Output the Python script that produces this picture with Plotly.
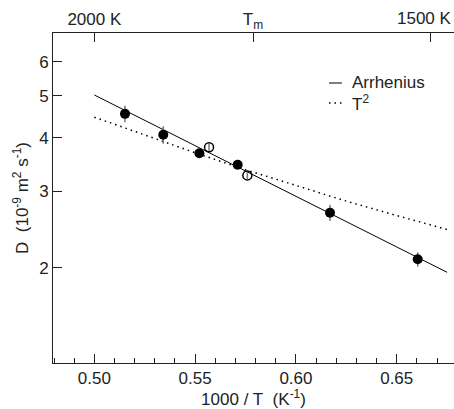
import plotly.graph_objects as go

# Filled (closed) data points
x_filled = [0.5152, 0.5342, 0.5521, 0.5711, 0.6169, 0.6604]
d_filled = [4.54, 4.06, 3.68, 3.46, 2.68, 2.09]
err_filled = [0.20, 0.19, 0.06, 0.06, 0.115, 0.08]

# Open data points
x_open = [0.5569, 0.5759]
d_open = [3.80, 3.27]
err_open = [0.07, 0.06]

# Arrhenius fit line (read at its ends)
x_arr = [0.500, 0.675]
d_arr = [5.02, 1.95]

# T^2 curve
x_t2 = [0.500, 0.525, 0.550, 0.575, 0.600, 0.625, 0.650, 0.675]
d_t2 = [4.46, 4.05, 3.69, 3.37, 3.10, 2.85, 2.64, 2.45]

# Axis ticks
y_ticks = [2, 3, 4, 5, 6]
top_tickvals = [1000 / 2000, 1000 / 1728, 1000 / 1500]
top_ticktext = ["2000 K", "T<sub>m</sub>", ""]
top_right_label = "1500 K"

FONT = "Liberation Sans, Arial, Helvetica, sans-serif"
AX = "#222222"
FS = 17
NB = "\u00a0"

fig = go.Figure()

fig.add_trace(go.Scatter(x=x_t2, y=d_t2, mode="lines",
                         line=dict(color="black", width=1.5, dash="1.5px,4px"),
                         showlegend=False, hoverinfo="skip"))
fig.add_trace(go.Scatter(x=x_arr, y=d_arr, mode="lines",
                         line=dict(color="black", width=1),
                         showlegend=False, hoverinfo="skip"))
fig.add_trace(go.Scatter(x=x_filled, y=d_filled, mode="markers",
                         marker=dict(symbol="circle", size=10, color="black"),
                         error_y=dict(type="data", array=err_filled, color="#777777",
                                      thickness=1.5, width=0),
                         showlegend=False))
fig.add_trace(go.Scatter(x=x_open, y=d_open, mode="markers",
                         marker=dict(symbol="circle-open", size=9, color="black",
                                     line=dict(width=1.5, color="black")),
                         error_y=dict(type="data", array=err_open, color="#777777",
                                      thickness=1.5, width=0),
                         showlegend=False))
# invisible trace on the top axis so it renders
fig.add_trace(go.Scatter(x=[0.5], y=[3], xaxis="x2", mode="markers",
                         marker=dict(opacity=0), showlegend=False, hoverinfo="skip"))

W, H = 454, 409
L, R, T, B = 53, 0, 33, 46
PW, PH = W - L - R, H - T - B


def px(xp):
    return (xp - L) / PW


def py(yp):
    return (H - B - yp) / PH


xr = [0.4795, 0.6784]
fig.update_layout(
    width=W, height=H,
    margin=dict(l=L, r=R, t=T, b=B),
    paper_bgcolor="white", plot_bgcolor="white",
    font=dict(family=FONT, size=FS, color="#222222"),
    xaxis=dict(range=xr, tick0=0.5, dtick=0.05, tickformat=".2f",
               automargin=False,
               ticks="inside", ticklen=9, tickwidth=1, tickcolor=AX,
               showline=True, linecolor=AX, linewidth=1,
               showgrid=False, zeroline=False,
               minor=dict(dtick=0.01, tick0=0.5, ticks="inside", ticklen=5,
                          tickwidth=1, tickcolor=AX, showgrid=False),
               title=dict(text="1000 / T" + NB + NB + "(K<sup>-1</sup>)",
                          font=dict(size=FS))),
    xaxis2=dict(range=xr, overlaying="x", side="top", anchor="y",
                automargin=False,
                tickvals=top_tickvals, ticktext=top_ticktext,
                ticks="inside", ticklen=9, tickwidth=1, tickcolor=AX,
                showline=True, linecolor=AX, linewidth=1,
                showgrid=False, zeroline=False),
    yaxis=dict(type="log", range=[0.080, 0.8443], tickvals=y_ticks,
               ticktext=[str(v) for v in y_ticks], automargin=False,
               ticks="inside", ticklen=9, tickwidth=1, tickcolor=AX,
               showline=True, linecolor=AX, linewidth=1,
               showgrid=False, zeroline=False,
               title=dict(text="D" + NB + NB + "(10<sup>-9</sup> m<sup>2</sup> s<sup>-1</sup>)",
                          font=dict(size=FS), standoff=6)),
)

fig.add_annotation(text=top_right_label, xref="paper", yref="paper",
                   x=1.0, y=1.0, xanchor="right", yanchor="bottom", yshift=3,
                   showarrow=False, font=dict(size=FS))

# Custom legend
fig.add_shape(type="line", xref="paper", yref="paper",
              x0=px(329), x1=px(342), y0=py(83), y1=py(83),
              line=dict(color="black", width=1))
fig.add_shape(type="line", xref="paper", yref="paper",
              x0=px(329), x1=px(344), y0=py(103), y1=py(103),
              line=dict(color="black", width=1.5, dash="1.5px,4px"))
fig.add_annotation(text="Arrhenius", xref="paper", yref="paper",
                   x=px(350), y=py(82.5),
                   xanchor="left", yanchor="middle", showarrow=False,
                   font=dict(size=FS))
fig.add_annotation(text="T<sup>2</sup>", xref="paper", yref="paper",
                   x=px(350), y=py(103),
                   xanchor="left", yanchor="middle", showarrow=False,
                   font=dict(size=FS))

fig.write_html("out.html", config={"displayModeBar": False},
               post_script="document.body.style.margin='0';")
